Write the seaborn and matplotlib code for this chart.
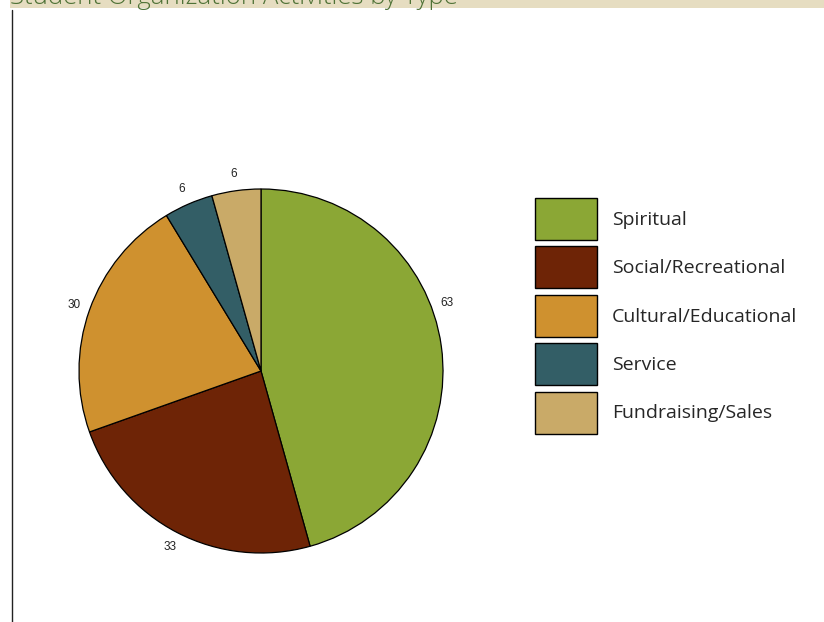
import numpy as np
import matplotlib
matplotlib.use("Agg")
import matplotlib.pyplot as plt
import seaborn as sns
from matplotlib.patches import Patch, Rectangle
from matplotlib.lines import Line2D

# Activity counts by type
categories = ["Spiritual", "Social/Recreational", "Cultural/Educational", "Service", "Fundraising/Sales"]
counts = [63, 33, 30, 6, 6]
colors = ["#8ba735", "#6e2406", "#cf912f", "#335e66", "#c9aa68"]
title = "Student Organization Activities by Type"

sns.set_theme(style="white")
plt.rcParams["font.family"] = ["Liberation Sans", "DejaVu Sans"]

fig = plt.figure(figsize=(8.24, 6.22), dpi=100)
fig.patch.set_facecolor("white")

# header band and title
fig.add_artist(Rectangle((10 / 824, 1 - 8 / 622), 1, 8 / 622, transform=fig.transFigure,
                         facecolor="#e6ddc1", edgecolor="none", zorder=0))
fig.text(10 / 824, 1 - 3.5 / 622, title, ha="left", va="baseline", fontsize=18.5,
         color="#4e7236", family=["Open Sans", "DejaVu Sans"], fontweight="light", zorder=2)
# left rule
fig.add_artist(Line2D([11.5 / 824, 11.5 / 824], [0, 1 - 10 / 622], transform=fig.transFigure,
                      color="#222222", linewidth=1.0))

ax = fig.add_axes([79 / 824, 69 / 622, 364 / 824, 364 / 622])
wedges, texts = ax.pie(counts, colors=colors, startangle=90, counterclock=False,
                       labels=[str(c) for c in counts], labeldistance=1.09,
                       wedgeprops=dict(edgecolor="black", linewidth=0.9),
                       textprops=dict(fontsize=8.5, color="#222222"))
for t in texts:
    t.set_ha("center")
    t.set_va("center")
# move the largest slice's label up along the rim
w0 = wedges[0]
ang = np.deg2rad(w0.theta1 + (w0.theta2 - w0.theta1) * 0.574)
texts[0].set_position((1.09 * np.cos(ang), 1.09 * np.sin(ang)))
ax.set_xlim(-1, 1)
ax.set_ylim(-1, 1)
ax.set_aspect("equal")
ax.axis("off")

fs = 14
handles = [Patch(facecolor=c, edgecolor="black", linewidth=1.0) for c in colors]
fig.legend(handles, categories, loc="upper left", bbox_to_anchor=(527.2 / 824, 1 - 190.2 / 622),
           frameon=False, handlelength=3.19, handleheight=2.946,
           labelspacing=0.33, handletextpad=0.77, borderaxespad=0,
           prop=dict(family=["Open Sans", "DejaVu Sans"], size=fs))

fig.savefig("out.png", dpi=100, facecolor="white")
